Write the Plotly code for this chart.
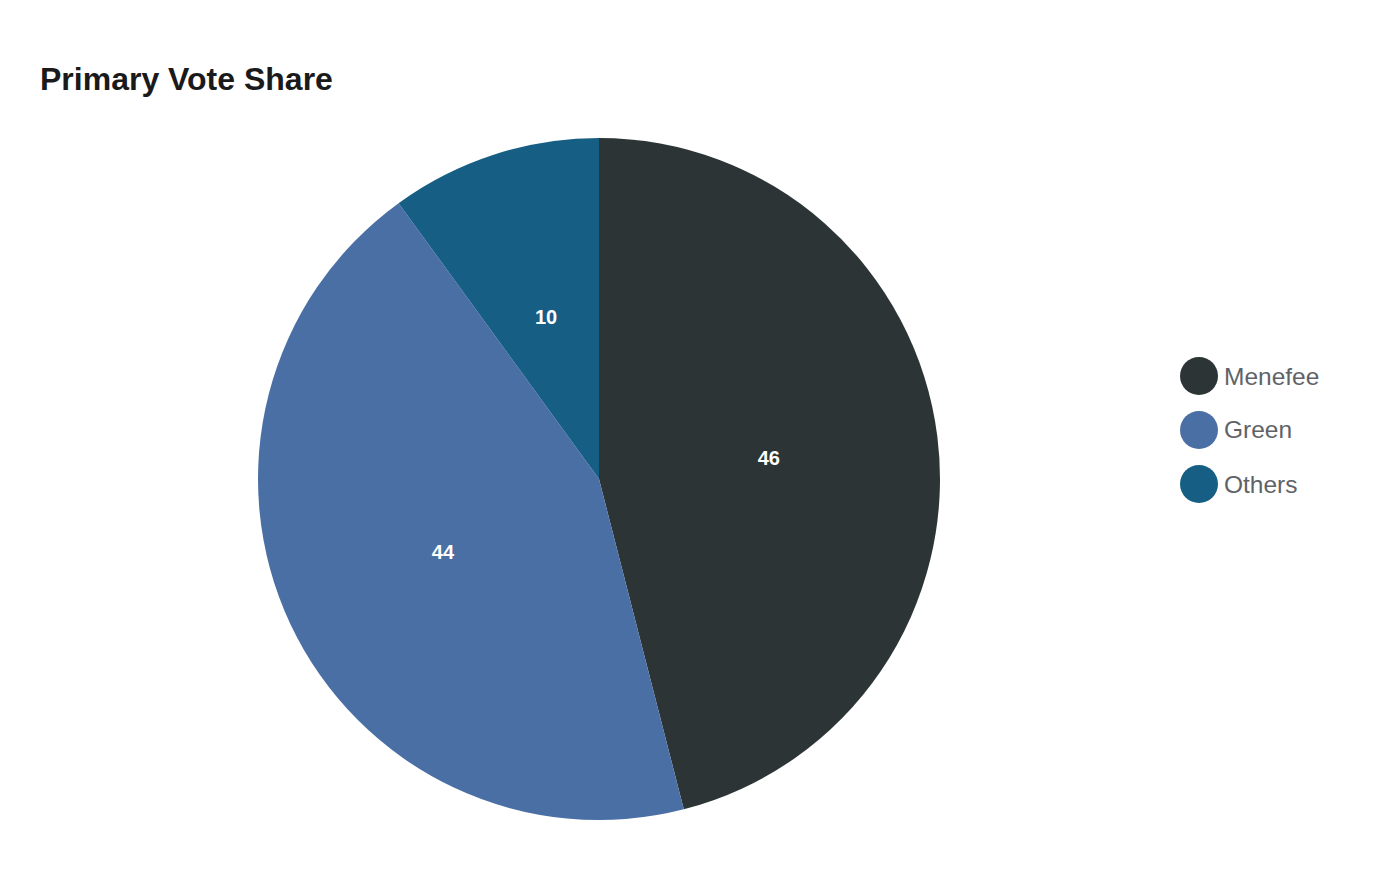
import math
import plotly.graph_objects as go

# vote shares
candidates = ['Menefee', 'Green', 'Others']
vote_share = [46, 44, 10]
colors = ['#2c3436', '#4a6fa5', '#175e85']

W, H = 1400, 880
M_T, M_B = 130, 68
CX, CY, R = 591, 471, 341  # pie centre / radius in pixels

FONT = 'Liberation Sans, Arial, sans-serif'


def px_x(x):
    return x / W


def px_y(y):
    # pixel from top -> paper y
    return (H - M_B - y) / (H - M_T - M_B)


fig = go.Figure()

fig.add_trace(go.Pie(
    labels=candidates,
    values=vote_share,
    marker=dict(colors=colors, line=dict(width=0)),
    sort=False,
    direction='clockwise',
    rotation=0,
    textinfo='value',
    textposition=['inside', 'inside', 'none'],
    insidetextorientation='horizontal',
    textfont=dict(family=FONT, size=20, color='white', weight='bold'),
    domain=dict(x=[0, 2 * CX / W], y=[0, 1]),
    showlegend=False,
    hoverinfo='label+value',
))

# label for the small slice, placed at half radius on its bisector
total = sum(vote_share)
cum = sum(vote_share[:2])
theta = 2 * math.pi * (cum + vote_share[2] / 2) / total
annotations = [dict(
    text='<b>%d</b>' % vote_share[2], xref='paper', yref='paper',
    x=px_x(CX + 0.5 * R * math.sin(theta)), y=px_y(CY - 0.5 * R * math.cos(theta)),
    xanchor='center', yanchor='middle', showarrow=False,
    font=dict(family=FONT, size=20, color='white'),
)]

# custom legend with large circle markers
shapes = []
for i, (name, col) in enumerate(zip(candidates, colors)):
    cy = 368 + i * 54
    shapes.append(dict(
        type='circle', xref='paper', yref='paper',
        xsizemode='pixel', ysizemode='pixel',
        xanchor=px_x(1191), yanchor=px_y(cy),
        x0=-19, x1=19, y0=-19, y1=19,
        fillcolor=col, line=dict(width=0),
    ))
    annotations.append(dict(
        text=name, xref='paper', yref='paper',
        x=px_x(1214), y=px_y(cy), xanchor='left', yanchor='middle',
        showarrow=False,
        font=dict(family=FONT, size=24.5, color='#5f6368'),
    ))

fig.update_layout(
    width=W, height=H,
    margin=dict(l=0, r=0, t=M_T, b=M_B),
    paper_bgcolor='white',
    plot_bgcolor='white',
    title=dict(
        text='<b>Primary Vote Share</b>',
        x=32 / W, xref='container', xanchor='left',
        y=1 - 71 / H, yref='container', yanchor='middle',
        font=dict(family=FONT, size=32, color='#1a1a1a'),
    ),
    shapes=shapes,
    annotations=annotations,
)

fig.write_html("out.html")
